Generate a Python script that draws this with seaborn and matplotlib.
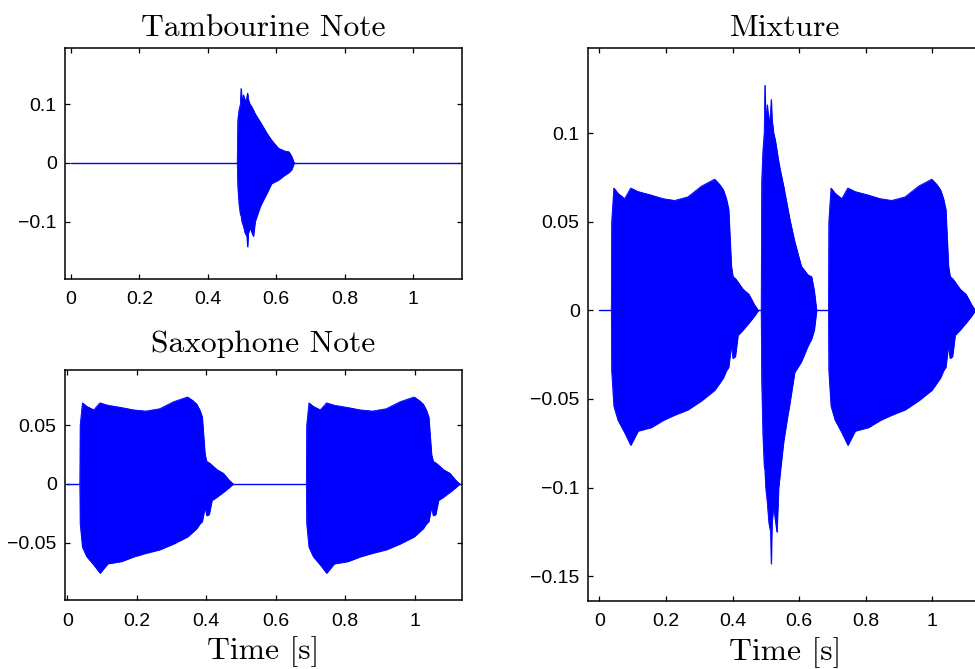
import matplotlib
matplotlib.use("Agg")
import matplotlib.pyplot as plt
import seaborn as sns
import pandas as pd

# ---------------- data ----------------
# Saxophone note envelope, time relative to the note onset [s]
sax_t_rel = [0.0, 0.001, 0.0075, 0.02, 0.04, 0.058, 0.08, 0.12, 0.155, 0.19,
             0.23, 0.27, 0.29, 0.31, 0.325, 0.336, 0.345, 0.352, 0.36, 0.365,
             0.372, 0.38, 0.395, 0.413, 0.43, 0.441]
sax_upper = [0.0, 0.050, 0.069, 0.066, 0.063, 0.069, 0.067, 0.065, 0.063, 0.062,
             0.064, 0.070, 0.072, 0.074, 0.071, 0.068, 0.063, 0.057, 0.025, 0.019,
             0.018, 0.016, 0.012, 0.009, 0.003, 0.0]
sax_lower = [0.0, -0.034, -0.054, -0.062, -0.069, -0.076, -0.068, -0.066, -0.062, -0.059,
             -0.056, -0.051, -0.048, -0.045, -0.041, -0.038, -0.034, -0.032, -0.0195, -0.027,
             -0.026, -0.014, -0.011, -0.007, -0.003, 0.0]
sax_onsets = [0.036, 0.688]

# Tambourine note envelope, absolute time [s]
tamb_t = [0.486, 0.4875, 0.491, 0.495, 0.497, 0.4995, 0.504, 0.509, 0.514, 0.516,
          0.518, 0.523, 0.528, 0.533, 0.538, 0.543, 0.553, 0.563, 0.572, 0.586,
          0.606, 0.626, 0.637, 0.645, 0.652]
tamb_upper = [0.0, 0.073, 0.09, 0.10, 0.127, 0.105, 0.116, 0.105, 0.112, 0.119,
              0.108, 0.10, 0.096, 0.09, 0.084, 0.079, 0.07, 0.06, 0.051, 0.039,
              0.025, 0.02, 0.019, 0.011, 0.0]
tamb_lower = [0.0, -0.04, -0.07, -0.088, -0.09, -0.1, -0.108, -0.12, -0.125, -0.143,
              -0.12, -0.11, -0.118, -0.125, -0.10, -0.091, -0.074, -0.062, -0.052, -0.035,
              -0.029, -0.02, -0.016, -0.011, 0.0]

baseline_t = [0.0, 1.134]
baseline_v = [0.0, 0.0]

titles = ["Tambourine Note", "Saxophone Note", "Mixture"]
xlabel = "Time [s]"
xticks = [0, 0.2, 0.4, 0.6, 0.8, 1]
xtick_labels = ["0", "0.2", "0.4", "0.6", "0.8", "1"]
tamb_yticks = [-0.1, 0, 0.1]
tamb_ytick_labels = ["\u22120.1", "0", "0.1"]
sax_yticks = [-0.05, 0, 0.05]
sax_ytick_labels = ["\u22120.05", "0", "0.05"]
mix_yticks = [-0.15, -0.1, -0.05, 0, 0.05, 0.1]
mix_ytick_labels = ["\u22120.15", "\u22120.1", "\u22120.05", "0", "0.05", "0.1"]

# ---------------- style ----------------
sns.set_theme(style="ticks")
plt.rcParams["font.family"] = ["Liberation Sans", "DejaVu Sans"]
plt.rcParams["axes.edgecolor"] = "black"
plt.rcParams["axes.linewidth"] = 1.1
plt.rcParams["text.color"] = "black"
plt.rcParams["axes.labelcolor"] = "black"
plt.rcParams["axes.titlecolor"] = "black"

BLUE = "#0000ff"
W, H = 975, 669

fig = plt.figure(figsize=(9.75, 6.69), dpi=100)
ax_t = fig.add_axes([65 / W, 1 - 279 / H, 397 / W, 231 / H])
ax_s = fig.add_axes([65 / W, 1 - 600 / H, 397 / W, 230 / H])
ax_m = fig.add_axes([588 / W, 1 - 601 / H, 394 / W, 553 / H])

base_df = pd.DataFrame({"t": baseline_t, "v": baseline_v})
tamb_df = pd.DataFrame({"t": tamb_t, "up": tamb_upper, "lo": tamb_lower})
sax_dfs = [pd.DataFrame({"t": [o + r for r in sax_t_rel], "up": sax_upper, "lo": sax_lower})
           for o in sax_onsets]


def draw_env(ax, df):
    ax.fill_between(df["t"], df["lo"], df["up"], color=BLUE, lw=0.6, edgecolor=BLUE)
    sns.lineplot(data=df, x="t", y="up", ax=ax, color=BLUE, lw=0.6)
    sns.lineplot(data=df, x="t", y="lo", ax=ax, color=BLUE, lw=0.6)


for ax in (ax_t, ax_s, ax_m):
    sns.lineplot(data=base_df, x="t", y="v", ax=ax, color=BLUE, lw=1.0)

draw_env(ax_t, tamb_df)
for d in sax_dfs:
    draw_env(ax_s, d)
    draw_env(ax_m, d)
draw_env(ax_m, tamb_df)

ax_t.set_xlim(-0.0175, 1.143)
ax_t.set_ylim(-0.198, 0.196)
ax_s.set_xlim(-0.0066, 1.136)
ax_s.set_ylim(-0.099, 0.097)
ax_m.set_xlim(-0.034, 1.149)
ax_m.set_ylim(-0.164, 0.148)

ax_t.set_yticks(tamb_yticks, tamb_ytick_labels)
ax_s.set_yticks(sax_yticks, sax_ytick_labels)
ax_m.set_yticks(mix_yticks, mix_ytick_labels)

title_pads = [9, 13, 9]
for ax, title, pad in zip((ax_t, ax_s, ax_m), titles, title_pads):
    ax.set_xticks(xticks, xtick_labels)
    ax.tick_params(direction="in", top=True, right=True, length=3.6, width=0.9,
                   labelsize=14, colors="black", pad=6)
    ax.tick_params(axis="x", pad=9)
    ax.set_title(title, fontfamily="cmr10", fontsize=22.7, pad=pad)
    ax.set_ylabel("")
    ax.set_xlabel("")
    for sp in ax.spines.values():
        sp.set_visible(True)
        sp.set_color("black")

ax_s.set_xlabel(xlabel, fontfamily="cmr10", fontsize=22.7, labelpad=5)
ax_m.set_xlabel(xlabel, fontfamily="cmr10", fontsize=22.7, labelpad=5)

fig.savefig("out.png", dpi=100)
